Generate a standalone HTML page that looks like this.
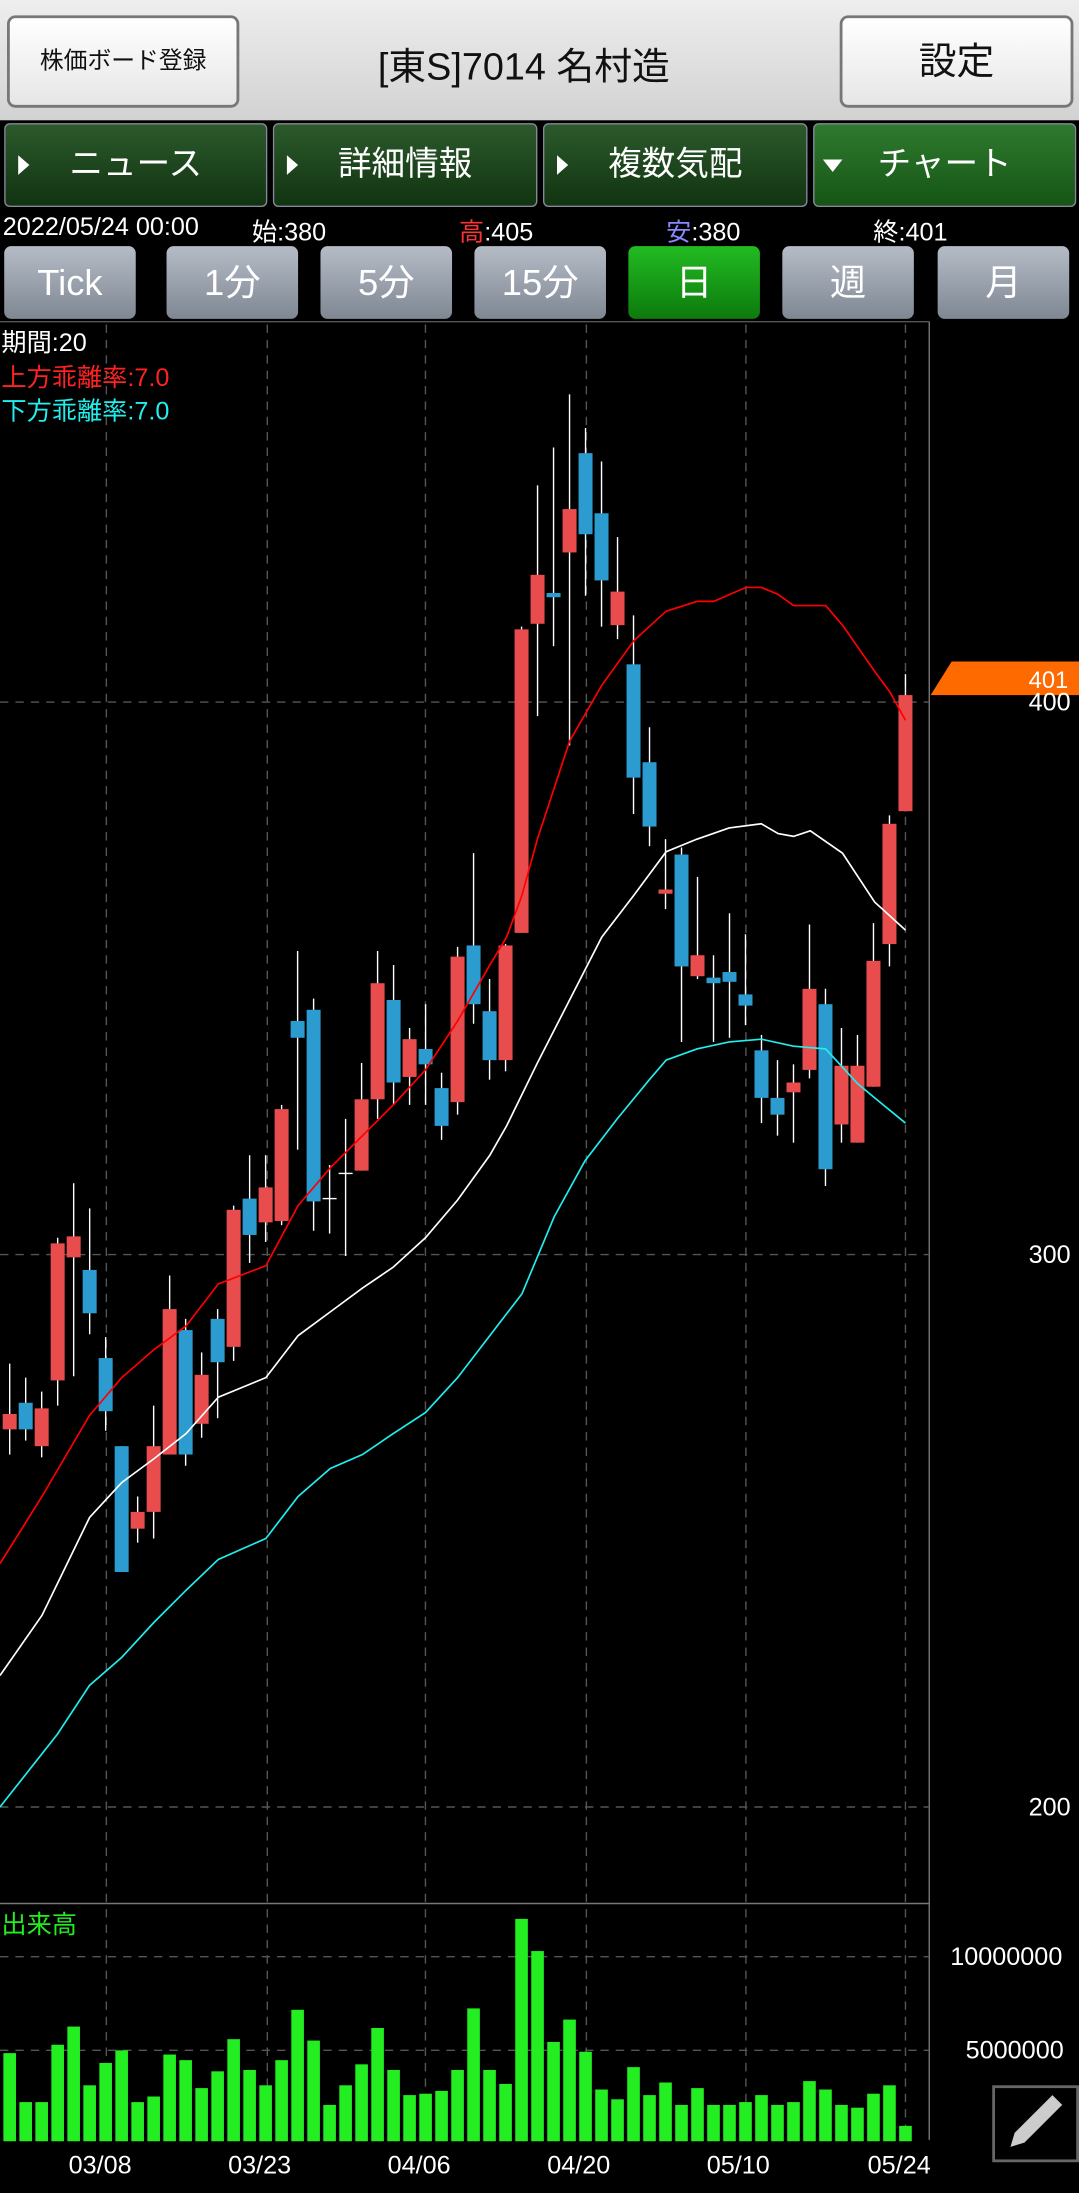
<!DOCTYPE html>
<html><head><meta charset="utf-8"><style>
html,body{margin:0;padding:0;background:#000;overflow:hidden}
body{width:1079px;height:2193px}
#w{position:absolute;left:0;top:0;width:771px;height:1568px;transform:scale(1.39948,1.39860);transform-origin:0 0;font-family:"Liberation Sans","Noto Sans CJK JP",sans-serif;background:#000}
.hdr{position:absolute;left:0;top:0;width:771px;height:86px;background:linear-gradient(#eee,#d2d2d2)}
.btn{position:absolute;background:linear-gradient(#fff,#e6e6e6);border:2px solid #777;border-radius:6px;box-sizing:border-box;text-align:center;color:#111}
.tab{position:absolute;top:88px;height:60px;background:linear-gradient(#2c5a2c,#113311);border:1px solid #889;box-sizing:border-box;border-radius:4px;color:#fff;font-size:24px;line-height:58px;text-align:center}
.tab:before{content:"";position:absolute;left:9px;top:22px;border-left:8px solid #fff;border-top:7px solid transparent;border-bottom:7px solid transparent}
.tab.d:before{left:6px;top:25px;border-top:9px solid #fff;border-left:7px solid transparent;border-right:7px solid transparent;border-bottom:0}
.pb{position:absolute;top:176px;height:52px;width:94px;background:linear-gradient(#b5bcc6,#7f8793);border-radius:5px;color:#fff;font-size:26px;line-height:52px;text-align:center}
.t{position:absolute;font-size:18px;white-space:nowrap}
</style></head><body><div id="w">
<div class="hdr"></div>
<div class="btn" style="left:5px;top:11px;width:166px;height:66px;font-size:17px;line-height:62px">株価ボード登録</div>
<div class="t" style="left:270px;top:26px;font-size:27px;color:#111">[東S]7014 名村造</div>
<div class="btn" style="left:600px;top:11px;width:167px;height:66px;font-size:27px;line-height:62px">設定</div>
<div class="tab" style="left:3px;width:188px">ニュース</div>
<div class="tab" style="left:195px;width:189px">詳細情報</div>
<div class="tab" style="left:388px;width:189px">複数気配</div>
<div class="tab d" style="left:581px;width:188px;background:linear-gradient(#2f7a2f,#155515)">チャート</div>
<div class="t" style="left:2px;top:152px;color:#fff">2022/05/24 00:00</div>
<div class="t" style="left:180px;top:152px;color:#fff">始:380</div>
<div class="t" style="left:328px;top:152px;color:#fff"><span style="color:#f33">高</span>:405</div>
<div class="t" style="left:476px;top:152px;color:#fff"><span style="color:#88f">安</span>:380</div>
<div class="t" style="left:624px;top:152px;color:#fff">終:401</div>
<div class="pb" style="left:3px">Tick</div>
<div class="pb" style="left:119px">1分</div>
<div class="pb" style="left:229px">5分</div>
<div class="pb" style="left:339px">15分</div>
<div class="pb" style="left:449px;background:linear-gradient(#22bb22,#0c7a0c)">日</div>
<div class="pb" style="left:559px">週</div>
<div class="pb" style="left:670px">月</div>
<svg id="c" width="771" height="1568" style="position:absolute;left:0;top:0"></svg>
<div class="t" style="left:1px;top:231px;color:#fff">期間:20</div>
<div class="t" style="left:1px;top:256px;color:#f22">上方乖離率:7.0</div>
<div class="t" style="left:1px;top:280px;color:#2ee">下方乖離率:7.0</div>
<div class="t" style="left:1px;top:1362px;color:#2e2">出来高</div>
<div class="t" style="left:735px;top:887px;color:#fff">300</div>
<div class="t" style="left:735px;top:492px;color:#fff">400</div>
<div class="t" style="left:735px;top:1282px;color:#fff">200</div>
<div class="t" style="left:679px;top:1389px;color:#fff">10000000</div>
<div class="t" style="left:690px;top:1456px;color:#fff">5000000</div>
<div class="t" style="left:49px;top:1538px;color:#fff">03/08</div>
<div class="t" style="left:163px;top:1538px;color:#fff">03/23</div>
<div class="t" style="left:277px;top:1538px;color:#fff">04/06</div>
<div class="t" style="left:391px;top:1538px;color:#fff">04/20</div>
<div class="t" style="left:505px;top:1538px;color:#fff">05/10</div>
<div class="t" style="left:620px;top:1538px;color:#fff">05/24</div>
</div>
<script>
var C=[
[1,975,1011,1022,1040],[0,985,1003,1022,1030],[1,995,1007,1034,1042],[1,885,889,987,1005],[1,846,884,899,984],[0,864,908,939,954],[0,956,971,1009,1023],[0,1034,1034,1124,1124],[1,1070,1081,1093,1103],[1,1005,1034,1081,1100],[1,912,936,1040,1040],[0,943,951,1040,1048],[1,967,983,1018,1028],[0,936,943,974,1014],[1,862,865,963,973],[0,826,857,883,903],[1,826,849,874,888],[1,790,793,873,876],[0,680,730,742,822],[0,714,722,859,880],[2,833,857,859,882],[2,800,839,841,898],[1,760,786,837,837],[1,680,703,786,800],[0,690,715,774,790],[1,735,743,770,790],[0,718,750,761,790],[0,767,778,805,815],[1,677,684,788,797],[0,610,676,718,732],[0,700,723,758,772],[1,675,676,758,766],[1,448,450,667,667],[1,347,411,446,512],[0,320,424,427,462],[1,282,364,395,533],[0,306,324,382,426],[0,330,367,415,448],[1,384,423,447,457],[0,440,475,556,582],[0,520,545,591,605],[1,600,636,639,650],[0,606,611,691,745],[1,627,683,698,700],[0,683,699,703,745],[0,653,695,702,742],[0,668,711,719,733],[0,740,751,785,803],[0,758,785,797,812],[1,761,774,781,817],[1,661,707,765,771],[0,707,718,836,848],[1,735,762,804,817],[1,740,762,817,817],[1,660,687,777,777],[1,583,589,675,691],[1,482,497,580,580]];
var V=[1468,1503,1503,1462,1449,1491,1475,1466,1503,1499,1469,1473,1493,1481,1458,1480,1491,1473,1437,1459,1505,1491,1476,1450,1480,1498,1497,1495,1480,1436,1480,1490,1372,1395,1460,1444,1467,1494,1501,1478,1498,1489,1505,1493,1505,1505,1503,1498,1505,1503,1488,1494,1505,1507,1497,1491,1520];
var M=[[0,1198],[30,1155],[64,1085],[87,1060],[110,1043],[133,1025],[156,999],[190,985],[213,955],[236,938],[259,921],[281,906],[304,885],[327,858],[350,826],[362,805],[384,760],[407,715],[430,670],[453,640],[476,609],[498,600],[521,592],[544,589],[556,596],[567,598],[579,594],[602,610],[625,645],[647,665]];
var R=[[0,1118],[30,1070],[64,1012],[87,985],[110,965],[133,948],[156,918],[190,905],[213,862],[236,835],[259,812],[281,790],[304,765],[327,730],[350,690],[362,670],[373,640],[384,600],[407,530],[430,490],[453,458],[476,437],[498,430],[510,430],[533,420],[544,420],[556,425],[567,433],[590,433],[602,447],[625,480],[636,495],[647,515]];
var B=[[0,1292],[41,1240],[64,1205],[87,1185],[110,1160],[133,1137],[156,1115],[190,1100],[213,1070],[236,1050],[259,1040],[281,1025],[304,1010],[327,985],[350,955],[373,925],[396,870],[418,830],[441,800],[464,772],[476,758],[498,750],[521,745],[544,743],[567,748],[590,750],[613,775],[625,785],[647,803]];
var s='';
s+='<line x1="664" y1="230" x2="664" y2="1530" stroke="#777"/><line x1="0" y1="1361" x2="664" y2="1361" stroke="#777"/><line x1="0" y1="230" x2="664" y2="230" stroke="#555"/>';
[502,897,1292,1399,1466].forEach(function(y){s+='<line x1="0" y1="'+y+'" x2="664" y2="'+y+'" stroke="#555" stroke-dasharray="6,5"/>';});
[76,191,304,419,533,647].forEach(function(x){s+='<line x1="'+x+'" y1="232" x2="'+x+'" y2="1530" stroke="#555" stroke-dasharray="6,5"/>';});
C.forEach(function(c,i){var x=647-(56-i)*11.43;
var col=c[0]==1?'#e84c4c':(c[0]==0?'#2b9bd0':'#fff');
s+='<line x1="'+x+'" y1="'+c[1]+'" x2="'+x+'" y2="'+c[4]+'" stroke="#fff" stroke-width="1"/>';
if(c[0]==2)s+='<line x1="'+(x-5)+'" y1="'+c[2]+'" x2="'+(x+5)+'" y2="'+c[2]+'" stroke="#fff"/>';
else s+='<rect x="'+(x-5)+'" y="'+c[2]+'" width="10" height="'+Math.max(3,c[3]-c[2])+'" fill="'+col+'"/>';
s+='<rect x="'+(x-4.5)+'" y="'+V[i]+'" width="9" height="'+(1531-V[i])+'" fill="#22ee22"/>';});
function pl(P,col){s+='<polyline points="'+P.map(function(p){return p[0]+','+p[1]}).join(' ')+'" fill="none" stroke="'+col+'" stroke-width="1.2"/>';}
pl(M,'#fff');pl(R,'#f00');pl(B,'#2ee');
s+='<polygon points="665,497 680,473 771,473 771,497" fill="#ff6a00"/><text x="735" y="492" fill="#fff" font-size="17" font-family="Liberation Sans">401</text>';
s+='<rect x="710" y="1492" width="60" height="53" fill="#000" stroke="#666" stroke-width="2"/><path d="M722 1535 L725 1525 L752 1498 L759 1505 L732 1532 Z" fill="#ccc"/>';
document.getElementById('c').innerHTML=s;
</script>
</body></html>
